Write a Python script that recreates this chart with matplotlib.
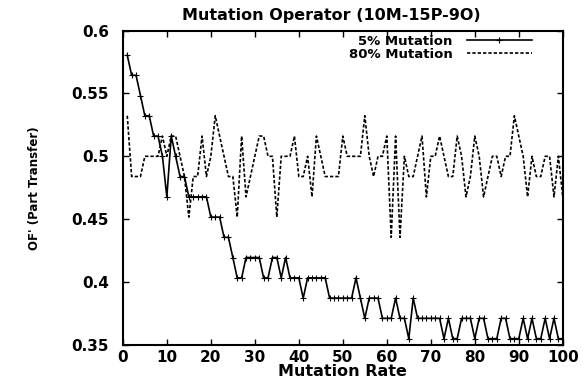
import numpy as np
import matplotlib
matplotlib.use("Agg")
import matplotlib.pyplot as plt

plt.rcParams['font.family'] = ['DejaVu Sans']
plt.rcParams['font.weight'] = 'bold'

# mutation rate index 1..100
rate = list(range(1, 101))

mut_5 = [0.5806, 0.5645, 0.5645, 0.5484, 0.5323, 0.5323, 0.5161, 0.5161, 0.5000, 0.4677,
         0.5161, 0.5000, 0.4839, 0.4839, 0.4677, 0.4677, 0.4677, 0.4677, 0.4677, 0.4516,
         0.4516, 0.4516, 0.4355, 0.4355, 0.4194, 0.4032, 0.4032, 0.4194, 0.4194, 0.4194,
         0.4194, 0.4032, 0.4032, 0.4194, 0.4194, 0.4032, 0.4194, 0.4032, 0.4032, 0.4032,
         0.3871, 0.4032, 0.4032, 0.4032, 0.4032, 0.4032, 0.3871, 0.3871, 0.3871, 0.3871,
         0.3871, 0.3871, 0.4032, 0.3871, 0.3710, 0.3871, 0.3871, 0.3871, 0.3710, 0.3710,
         0.3710, 0.3871, 0.3710, 0.3710, 0.3548, 0.3871, 0.3710, 0.3710, 0.3710, 0.3710,
         0.3710, 0.3710, 0.3548, 0.3710, 0.3548, 0.3548, 0.3710, 0.3710, 0.3710, 0.3548,
         0.3710, 0.3710, 0.3548, 0.3548, 0.3548, 0.3710, 0.3710, 0.3548, 0.3548, 0.3548,
         0.3710, 0.3548, 0.3710, 0.3548, 0.3548, 0.3710, 0.3548, 0.3710, 0.3548, 0.3548]

mut_80 = [0.5323, 0.4839, 0.4839, 0.4839, 0.5000, 0.5000, 0.5000, 0.5000, 0.5161, 0.5000,
          0.5161, 0.5161, 0.5000, 0.4839, 0.4516, 0.4839, 0.4839, 0.5161, 0.4839, 0.5000,
          0.5323, 0.5161, 0.5000, 0.4839, 0.4839, 0.4516, 0.5161, 0.4677, 0.4839, 0.5000,
          0.5161, 0.5161, 0.5000, 0.5000, 0.4516, 0.5000, 0.5000, 0.5000, 0.5161, 0.4839,
          0.4839, 0.5000, 0.4677, 0.5161, 0.5000, 0.4839, 0.4839, 0.4839, 0.4839, 0.5161,
          0.5000, 0.5000, 0.5000, 0.5000, 0.5323, 0.5000, 0.4839, 0.5000, 0.5000, 0.5161,
          0.4355, 0.5161, 0.4355, 0.5000, 0.4839, 0.4839, 0.5000, 0.5161, 0.4677, 0.5000,
          0.5000, 0.5161, 0.5000, 0.4839, 0.4839, 0.5161, 0.5000, 0.4677, 0.4839, 0.5161,
          0.5000, 0.4677, 0.4839, 0.5000, 0.5000, 0.4839, 0.5000, 0.5000, 0.5323, 0.5161,
          0.5000, 0.4677, 0.5000, 0.4839, 0.4839, 0.5000, 0.5000, 0.4677, 0.5000, 0.4677]

xticks = list(range(0, 101, 10))
yticks = [0.35, 0.4, 0.45, 0.5, 0.55, 0.6]
ytick_labels = ['0.35', '0.4', '0.45', '0.5', '0.55', '0.6']

fig = plt.figure(figsize=(5.85, 3.79), dpi=100)
ax = fig.add_axes([0.21, 0.0905, 0.752, 0.8285])

ax.plot(rate, mut_5, color='black', lw=1.2, marker='+', ms=5, mew=0.8, label='5% Mutation')
ax.plot(rate, mut_80, color='black', lw=1.2, ls=(0, (2, 1.2)), label='80% Mutation')

ax.set_xlim(0, 100)
ax.set_ylim(0.35, 0.6)
ax.set_xticks(xticks)
ax.set_yticks(yticks)
ax.set_yticklabels(ytick_labels)
ax.tick_params(direction='in', top=True, right=True, length=4, width=1, labelsize=11)
ax.tick_params(axis='x', pad=4)
ax.tick_params(axis='y', pad=10)
for s in ax.spines.values():
    s.set_linewidth(1.5)

ax.set_title('Mutation Operator (10M-15P-9O)', fontsize=11.5, fontweight='bold', pad=8, x=0.473)
ax.set_xlabel('Mutation Rate', fontsize=11.5, fontweight='bold', labelpad=-1)
ax.set_ylabel("OF' (Part Transfer)", fontsize=8.5, fontweight='bold', labelpad=22)

leg = ax.legend(loc='upper right', bbox_to_anchor=(0.937, 0.997), frameon=False, markerfirst=False,
                fontsize=9.5, handlelength=4.9, labelspacing=0.0, borderaxespad=0.0,
                borderpad=0.25, handletextpad=1.1)
for t in leg.get_texts():
    t.set_fontweight('bold')

fig.savefig('out.png', dpi=100)
